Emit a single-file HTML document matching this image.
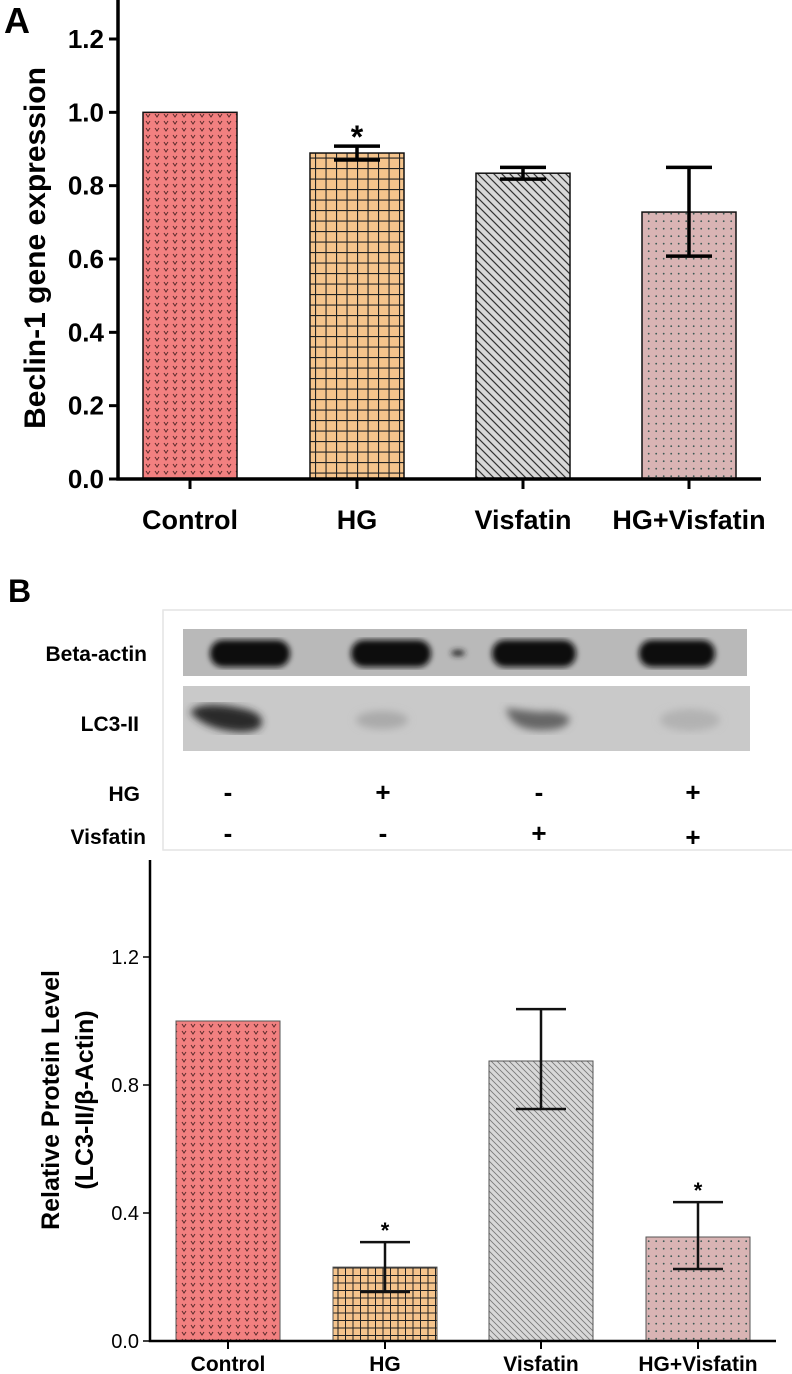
<!DOCTYPE html>
<html><head><meta charset="utf-8"><style>
html,body{margin:0;padding:0;background:#fff;}
svg{display:block;font-family:"Liberation Sans",Arial,sans-serif;}
.n{font-family:"Liberation Sans Narrow","Liberation Sans",sans-serif;}
</style></head><body>
<svg id="fig" width="792" height="1374" viewBox="0 0 792 1374" xmlns="http://www.w3.org/2000/svg">
<defs>
<pattern id="pCtrl" width="9" height="7" patternUnits="userSpaceOnUse"><rect width="9" height="7" fill="#f28080"/><path d="M2 2 L4 5 L6 2" stroke="#5a2a2a" stroke-width="1" fill="none"/></pattern>
<pattern id="pHG" width="10.5" height="10.5" patternUnits="userSpaceOnUse"><rect width="10.5" height="10.5" fill="#f5c48c"/><path d="M0 0.5 H10.5 M0.5 0 V10.5" stroke="#222" stroke-width="1.2"/></pattern>
<pattern id="pHG2" width="7.5" height="7.5" patternUnits="userSpaceOnUse"><rect width="7.5" height="7.5" fill="#f5c48c"/><path d="M0 0.5 H7.5 M0.5 0 V7.5" stroke="#222" stroke-width="1"/></pattern>
<pattern id="pVis" width="8" height="8" patternUnits="userSpaceOnUse"><rect width="8" height="8" fill="#d8d8d8"/><path d="M-2 -2 L10 10 M-2 6 L2 10 M6 -2 L10 2" stroke="#333" stroke-width="1.2"/></pattern>
<pattern id="pVis2" width="6" height="6" patternUnits="userSpaceOnUse"><rect width="6" height="6" fill="#d8d8d8"/><path d="M-2 -2 L8 8 M-2 4 L2 8 M4 -2 L8 2" stroke="#777" stroke-width="0.8"/></pattern>
<pattern id="pHGV" width="7.5" height="7.5" patternUnits="userSpaceOnUse"><rect width="7.5" height="7.5" fill="#d9b4b4"/><circle cx="3.7" cy="3.7" r="0.9" fill="#3d5a55"/></pattern>
<filter id="blur"><feGaussianBlur stdDeviation="3"/></filter>
<filter id="blur2"><feGaussianBlur stdDeviation="4"/></filter>
</defs>
<g id="chartA"></g>
<g id="blot"></g>
<g id="chartB"></g>
</svg>
<script>
const categories = ["Control", "HG", "Visfatin", "HG+Visfatin"];
const beclinValues = [1.0, 0.889, 0.834, 0.728];
const beclinErrUp = [1.0, 0.908, 0.85, 0.85];
const beclinErrDown = [1.0, 0.87, 0.818, 0.608];
const beclinStars = [false, true, false, false];
const beclinTicks = ["0.0", "0.2", "0.4", "0.6", "0.8", "1.0", "1.2"];
const lc3Values = [1.0, 0.231, 0.875, 0.325];
const lc3ErrUp = [1.0, 0.309, 1.037, 0.434];
const lc3ErrDown = [1.0, 0.153, 0.725, 0.225];
const lc3Stars = [false, true, false, true];
const lc3Ticks = ["0.0", "0.4", "0.8", "1.2"];
const hgSigns = ["-", "+", "-", "+"];
const visSigns = ["-", "-", "+", "+"];

const NS = "http://www.w3.org/2000/svg";
function mk(parent, tag, attrs, text){
  const e = document.createElementNS(NS, tag);
  for (const k in attrs) e.setAttribute(k, attrs[k]);
  if (text !== undefined) e.textContent = text;
  parent.appendChild(e); return e;
}

// ---------- Panel A ----------
(function(){
  const g = document.getElementById("chartA");
  const x0 = 118, y0 = 479, yTop = 39, vMax = 1.2;
  const yA = v => y0 - (v / vMax) * (y0 - yTop);
  const centers = [190, 357, 523, 689];
  const bw = 94;
  const fills = ["url(#pCtrl)", "url(#pHG)", "url(#pVis)", "url(#pHGV)"];
  let t = mk(g, "text", {x: 4, y: 33, "font-size": 36, "font-weight": "bold"}, "A");
  
  
  categories.forEach((c, i) => {
    const top = yA(beclinValues[i]);
    const r = mk(g, "rect", {x: centers[i] - bw/2, y: top, width: bw, height: y0 - top, fill: fills[i], stroke: "#111", "stroke-width": 1.5});
    
    
    if (beclinErrUp[i] !== beclinErrDown[i]) {
      const eg = mk(g, "g", {stroke: "#000", "stroke-width": 3.5});
      
      
      const yu = yA(beclinErrUp[i]), yd = yA(beclinErrDown[i]);
      mk(eg, "line", {x1: centers[i], x2: centers[i], y1: yu, y2: yd});
      mk(eg, "line", {x1: centers[i] - 23, x2: centers[i] + 23, y1: yu, y2: yu});
      mk(eg, "line", {x1: centers[i] - 23, x2: centers[i] + 23, y1: yd, y2: yd});
    }
    if (beclinStars[i]) {
      const s = mk(g, "text", {x: centers[i], y: yA(beclinErrUp[i]) + 2, "font-size": 32, "font-weight": "bold", "text-anchor": "middle"}, "*");
      
      
    }
    const tk = mk(g, "line", {x1: centers[i], x2: centers[i], y1: y0, y2: y0 + 10, stroke: "#000", "stroke-width": 3});
    
    
    const lb = mk(g, "text", {x: centers[i], y: 529, "font-size": 27, "font-weight": "bold", "text-anchor": "middle"}, c);
    
    
  });
  const ax = mk(g, "path", {d: `M${x0} 0 V${y0} H761`, stroke: "#000", "stroke-width": 3.5, fill: "none"});
  
  
  beclinTicks.forEach(tl => {
    const y = yA(parseFloat(tl));
    const l = mk(g, "line", {x1: x0 - 9, x2: x0, y1: y, y2: y, stroke: "#000", "stroke-width": 3});
    
    
    const tx = mk(g, "text", {x: x0 - 14, y: y + 9, "font-size": 26, "font-weight": "bold", "text-anchor": "end"}, tl);
    
    
  });
  const yt = mk(g, "text", {x: 0, y: 0, "font-size": 30, "font-weight": "bold", "text-anchor": "middle", transform: "translate(45 248) rotate(-90)"}, "Beclin-1 gene expression");
  
  
})();

// ---------- Blot ----------
(function(){
  const g = document.getElementById("blot");
  let t = mk(g, "text", {x: 8, y: 602, "font-size": 32, "font-weight": "bold"}, "B");
  
  
  const fr = mk(g, "path", {d: "M792 610 H163 V850 H792", fill: "none", stroke: "#e4e4e4", "stroke-width": 1.5});
  
  
  const s1 = mk(g, "rect", {x: 183, y: 629, width: 564, height: 47, fill: "#b9b9b9"});
  
  
  const s2 = mk(g, "rect", {x: 183, y: 686, width: 567, height: 65, fill: "#c9c9c9"});
  
  
  const bands = mk(g, "g", {filter: "url(#blur)"});
  
  
  [[250,40],[391,40],[534,42],[677,38]].forEach(b => mk(bands, "rect", {x: b[0]-b[1], y: 640, width: 2*b[1], height: 27, rx: 13, fill: "#111"}));
  mk(bands, "ellipse", {cx: 458, cy: 653, rx: 7, ry: 3, fill: "#222"});
  const lb = mk(g, "g", {filter: "url(#blur2)"});
  
  
  mk(lb, "path", {d: "M190 712 Q200 700 240 708 Q262 712 262 722 Q262 732 240 732 Q205 730 190 712 Z", fill: "#2a2a2a"});
  mk(lb, "ellipse", {cx: 382, cy: 720, rx: 26, ry: 9, fill: "#aaa"});
  mk(lb, "path", {d: "M506 708 Q510 728 535 730 Q568 732 570 718 Q560 710 540 712 Q520 710 506 708 Z", fill: "#666"});
  mk(lb, "ellipse", {cx: 690, cy: 720, rx: 30, ry: 11, fill: "#b2b2b2"});
  const labels = [["Beta-actin",147,661],["LC3-II",139,731],["HG",140,801],["Visfatin",146,844]];
  labels.forEach(l => {
    const tx = mk(g, "text", {x: l[1], y: l[2], "font-size": 21, "font-weight": "bold", "text-anchor": "end", class: "n"}, l[0]);
    
    
  });
  const lanes = [228, 383, 539, 693];
  hgSigns.forEach((s, i) => {
    const tx = mk(g, "text", {x: lanes[i], y: 801, "font-size": 26, "font-weight": "bold", "text-anchor": "middle"}, s);
    
    
  });
  visSigns.forEach((s, i) => {
    const tx = mk(g, "text", {x: lanes[i], y: i === 3 ? 846 : 842, "font-size": 26, "font-weight": "bold", "text-anchor": "middle"}, s);
    
    
  });
})();

// ---------- Panel B chart ----------
(function(){
  const g = document.getElementById("chartB");
  const x0 = 150, y0 = 1341, yTop = 957, vMax = 1.2;
  const yB = v => y0 - (v / vMax) * (y0 - yTop);
  const centers = [228, 385, 541, 698];
  const bw = 104;
  const fills = ["url(#pCtrl)", "url(#pHG2)", "url(#pVis2)", "url(#pHGV)"];
  categories.forEach((c, i) => {
    const top = yB(lc3Values[i]);
    const r = mk(g, "rect", {x: centers[i] - bw/2, y: top, width: bw, height: y0 - top, fill: fills[i], stroke: "#555", "stroke-width": 1});
    
    
    if (lc3ErrUp[i] !== lc3ErrDown[i]) {
      const eg = mk(g, "g", {stroke: "#111", "stroke-width": 2.5});
      
      
      const yu = yB(lc3ErrUp[i]), yd = yB(lc3ErrDown[i]);
      mk(eg, "line", {x1: centers[i], x2: centers[i], y1: yu, y2: yd});
      mk(eg, "line", {x1: centers[i] - 25, x2: centers[i] + 25, y1: yu, y2: yu});
      mk(eg, "line", {x1: centers[i] - 25, x2: centers[i] + 25, y1: yd, y2: yd});
    }
    if (lc3Stars[i]) {
      const s = mk(g, "text", {x: centers[i], y: yB(lc3ErrUp[i]) - 4, "font-size": 22, "font-weight": "bold", "text-anchor": "middle"}, "*");
      
      
    }
    const tk = mk(g, "line", {x1: centers[i], x2: centers[i], y1: y0, y2: y0 + 8, stroke: "#000", "stroke-width": 2});
    
    
    const lb = mk(g, "text", {x: centers[i], y: 1371, "font-size": 21, "font-weight": "bold", "text-anchor": "middle", class: "n"}, c);
    
    
  });
  const ax = mk(g, "path", {d: `M${x0} 860 V${y0} H776`, stroke: "#000", "stroke-width": 2.5, fill: "none"});
  
  
  lc3Ticks.forEach(tl => {
    const y = yB(parseFloat(tl));
    const l = mk(g, "line", {x1: x0 - 7, x2: x0, y1: y, y2: y, stroke: "#000", "stroke-width": 1.5});
    
    
    const tx = mk(g, "text", {x: x0 - 11, y: y + 7, "font-size": 20, "text-anchor": "end", class: "n"}, tl);
    
    
  });
  const yt = mk(g, "text", {x: 0, y: 0, "font-size": 25, "font-weight": "bold", "text-anchor": "middle", transform: "translate(59 1100) rotate(-90)"}, "Relative Protein Level");
  
  
  const yt2 = mk(g, "text", {x: 0, y: 0, "font-size": 25, "font-weight": "bold", "text-anchor": "middle", transform: "translate(93 1100) rotate(-90)"}, "(LC3-II/β-Actin)");
  
  
})();
</script>
</body></html>
